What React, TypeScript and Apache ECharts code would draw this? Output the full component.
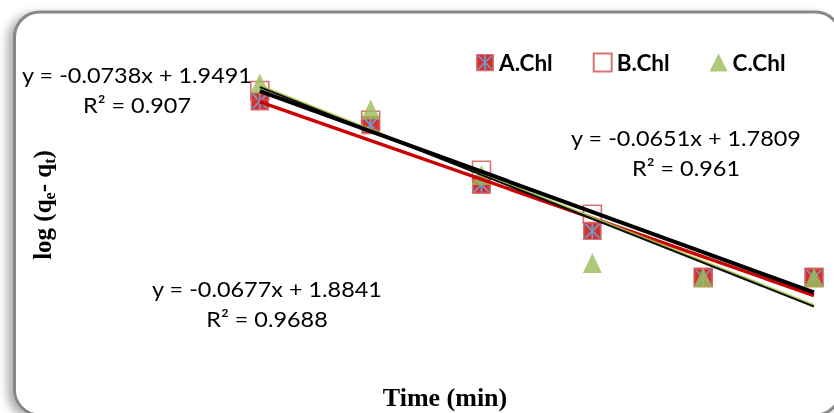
import { useEffect, useRef } from "react";
import * as echarts from "echarts";

// Time (min) and log(qe - qt) for the three chlorophyll samples
const timeMin = [5, 10, 15, 20, 25, 30];
const seriesNames = ["A.Chl", "B.Chl", "C.Chl"];
const logA = [1.46, 1.26, 0.76, 0.37, -0.02, -0.02];
const logB = [1.55, 1.3, 0.88, 0.51, -0.02, -0.02];
const logC = [1.61, 1.39, 0.84, 0.1, -0.02, -0.02];

// Linear trendlines (pseudo-first-order fits), same order as the series
const fitSlope = [-0.0651, -0.0677, -0.0738];
const fitIntercept = [1.7809, 1.8841, 1.9491];
const fitR2 = [0.961, 0.9688, 0.907];

// Where each fit's equation block is centred (px)
const eqAnchor: [number, number][] = [
  [686, 138],
  [267, 289],
  [137, 75],
];

const starSvg =
  '<svg xmlns="http://www.w3.org/2000/svg" width="40" height="40" viewBox="0 0 20 20">' +
  '<rect x="0.75" y="0.75" width="18.5" height="18.5" fill="#C80000" stroke="#D9534F" stroke-width="1.5"/>' +
  '<path d="M2.5 2.5L17.5 17.5M17.5 2.5L2.5 17.5M10 1.5V18.5" stroke="#4F81BD" stroke-width="1.8" fill="none"/>' +
  "</svg>";
const starSymbol = "image://data:image/svg+xml;charset=utf-8," + encodeURIComponent(starSvg);

const EQ_FONT = "Lato";
const TITLE_FONT = "'Liberation Serif', 'Times New Roman', serif";

function fitText(i: number) {
  const b = fitIntercept[i];
  return `y = ${fitSlope[i]}x ${b < 0 ? "-" : "+"} ${Math.abs(b)}`;
}

export default function App() {
  const ref = useRef<HTMLDivElement>(null);

  useEffect(() => {
    if (!ref.current) return;
    const chart = echarts.init(ref.current, undefined, { renderer: "svg" });

    const values = [logA, logB, logC];
    const pts = (v: number[]) => timeMin.map((t, i) => [t, v[i]]);
    const x0 = timeMin[0];
    const x1 = timeMin[timeMin.length - 1];
    const fitLine = (i: number) => [
      [x0, fitSlope[i] * x0 + fitIntercept[i]],
      [x1, fitSlope[i] * x1 + fitIntercept[i]],
    ];

    const eqText = (text: string, x: number, y: number) => ({
      type: "text",
      x,
      y,
      scaleX: 1.09,
      z: 20,
      silent: true,
      style: {
        text,
        fontFamily: EQ_FONT,
        fontSize: 21.5,
        fill: "#000",
        align: "center",
        verticalAlign: "middle",
        textAlign: "center",
        textVerticalAlign: "middle",
      },
    });

    const eqGraphics: any[] = [];
    eqAnchor.forEach(([cx, cy], i) => {
      eqGraphics.push(eqText(fitText(i), cx, cy));
      eqGraphics.push(eqText(`R² = ${fitR2[i]}`, cx, cy + 30));
    });

    const option: any = {
      animation: false,
      grid: { left: 149, right: 20, top: 37, bottom: 19 },
      xAxis: { type: "value", min: 0, max: 30, show: false },
      yAxis: { type: "value", min: -1, max: 2, show: false },
      legend: {
        data: seriesNames,
        left: 476,
        top: 51,
        padding: 0,
        itemWidth: 18,
        itemHeight: 18,
        itemGap: 40,
        selectedMode: false,
        textStyle: {
          fontFamily: EQ_FONT,
          fontWeight: "bold",
          fontSize: 22.5,
          color: "#000",
        },
      },
      series: [
        {
          type: "scatter",
          name: seriesNames[0],
          data: pts(values[0]),
          symbol: starSymbol,
          symbolSize: 19,
          clip: false,
          z: 2,
        },
        {
          type: "scatter",
          name: seriesNames[1],
          data: pts(values[1]),
          symbol: "rect",
          symbolSize: 18,
          clip: false,
          z: 3,
          itemStyle: {
            color: "rgba(255,255,255,0)",
            borderColor: "#D0504D",
            borderWidth: 1.6,
          },
        },
        {
          type: "scatter",
          name: seriesNames[2],
          data: pts(values[2]),
          symbol: "triangle",
          symbolSize: [19, 20],
          clip: false,
          z: 4,
          itemStyle: { color: "#9BBB59" },
        },
        {
          type: "line",
          name: "A fit",
          data: fitLine(0),
          symbol: "none",
          silent: true,
          clip: false,
          z: 5,
          lineStyle: { color: "#CC0000", width: 3.5 },
        },
        {
          type: "line",
          name: "C fit",
          data: fitLine(2),
          symbol: "none",
          silent: true,
          clip: false,
          z: 6,
          lineStyle: {
            color: "#111",
            width: 2.2,
            shadowColor: "#A9C64A",
            shadowBlur: 0.3,
            shadowOffsetY: -1.3,
          },
        },
        {
          type: "line",
          name: "B fit",
          data: fitLine(1),
          symbol: "none",
          silent: true,
          clip: false,
          z: 7,
          lineStyle: { color: "#000", width: 4 },
        },
      ],
      graphic: [
        {
          type: "rect",
          z: 0,
          silent: true,
          shape: { x: 14.5, y: 12, width: 826, height: 403, r: 25 },
          style: {
            fill: "#fff",
            stroke: "#878787",
            lineWidth: 3,
            shadowBlur: 8,
            shadowOffsetX: -6,
            shadowOffsetY: 3,
            shadowColor: "rgba(0,0,0,0.3)",
          },
        },
        {
          type: "text",
          x: 445,
          y: 397,
          z: 20,
          silent: true,
          style: {
            text: "Time (min)",
            fontFamily: TITLE_FONT,
            fontWeight: "bold",
            fontSize: 26,
            fill: "#000",
            align: "center",
            verticalAlign: "middle",
            textAlign: "center",
            textVerticalAlign: "middle",
          },
        },
        {
          type: "text",
          x: 42,
          y: 205,
          rotation: Math.PI / 2,
          z: 20,
          silent: true,
          style: {
            text: "{a|log (q}{s|e}{a|- q}{s|t}{a|)}",
            align: "center",
            verticalAlign: "middle",
            textAlign: "center",
            textVerticalAlign: "middle",
            rich: {
              a: {
                fontFamily: TITLE_FONT,
                fontWeight: "bold",
                fontSize: 25,
                lineHeight: 30,
                fill: "#000",
                color: "#000",
              },
              s: {
                fontFamily: TITLE_FONT,
                fontWeight: "bold",
                fontSize: 16,
                lineHeight: 30,
                verticalAlign: "bottom",
                fill: "#000",
                color: "#000",
              },
            },
          },
        },
        ...eqGraphics,
      ],
    };

    chart.setOption(option);
    return () => chart.dispose();
  }, []);

  return (
    <div
      ref={ref}
      style={{ position: "fixed", left: 0, top: 0, width: 834, height: 413 }}
    />
  );
}
